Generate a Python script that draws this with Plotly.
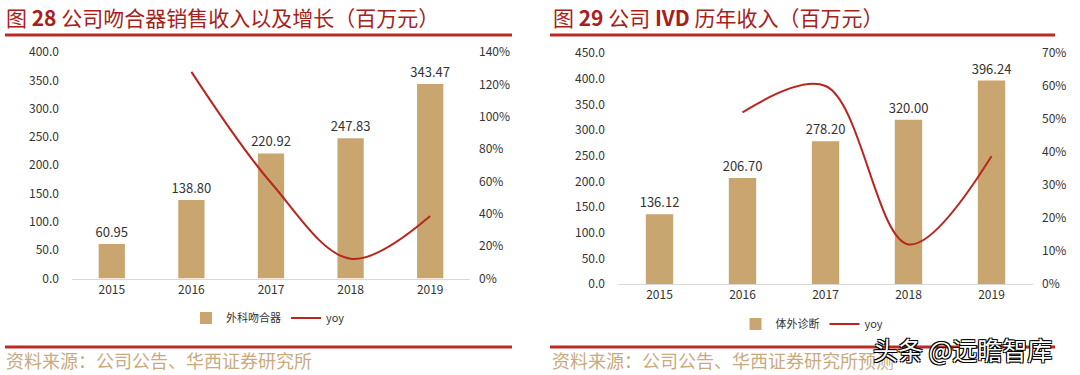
import plotly.graph_objects as go

W, H = 1080, 375

# ---- data ----
years = ["2015", "2016", "2017", "2018", "2019"]
stapler_rev = [60.95, 138.80, 220.92, 247.83, 343.47]
stapler_yoy = [None, 1.277, 0.592, 0.122, 0.386]
ivd_rev = [136.12, 206.70, 278.20, 320.00, 396.24]
ivd_yoy = [None, 0.52, 0.60, 0.12, 0.387]

left_title = "图 <b>28</b> 公司吻合器销售收入以及增长（百万元）"
right_title = "图 <b>29</b> 公司 <b>IVD</b> 历年收入（百万元）"
left_source = "资料来源：公司公告、华西证券研究所"
right_source = "资料来源：公司公告、华西证券研究所预测"
left_bar_name = "外科吻合器"
right_bar_name = "体外诊断"
line_name = "yoy"
watermark = "头条 @远瞻智库"

BAR = "#C9A66F"
LINE = "#B8261E"
TITLE = "#A8201A"
RULE = "#BE2A22"
SRC = "#C9AA80"
TXT = "#333333"
FONT = "Noto Sans CJK SC"


def px(x):
    return x / W


def py(y):
    return (H - y) / H


fig = go.Figure()

# left chart
fig.add_trace(go.Bar(x=years, y=stapler_rev, name=left_bar_name, marker_color=BAR,
                     text=stapler_rev, texttemplate="%{y:.2f}", textposition="outside",
                     constraintext="none",
                     textfont=dict(size=13, color=TXT, family=FONT), cliponaxis=False,
                     xaxis="x", yaxis="y", legend="legend"))
fig.add_trace(go.Scatter(x=years, y=stapler_yoy, name=line_name, mode="lines",
                         line=dict(color=LINE, width=2, shape="spline", smoothing=1),
                         xaxis="x", yaxis="y2", legend="legend"))
# right chart
fig.add_trace(go.Bar(x=years, y=ivd_rev, name=right_bar_name, marker_color=BAR,
                     text=ivd_rev, texttemplate="%{y:.2f}", textposition="outside",
                     constraintext="none",
                     textfont=dict(size=13, color=TXT, family=FONT), cliponaxis=False,
                     xaxis="x2", yaxis="y3", legend="legend2"))
fig.add_trace(go.Scatter(x=years, y=ivd_yoy, name=line_name, mode="lines",
                         line=dict(color=LINE, width=2, shape="spline", smoothing=1),
                         xaxis="x2", yaxis="y4", legend="legend2"))

tickf = dict(size=12, color=TXT, family=FONT)
xcommon = dict(type="category", showgrid=False, showline=True, linecolor="#D9D9D9",
               linewidth=1, ticks="", tickfont=tickf, fixedrange=True, automargin=False)
ycommon = dict(showgrid=False, zeroline=False, showline=False, ticks="", tickfont=tickf,
               automargin=False)

ldom_y = [py(278.5), py(52)]
rdom_y = [py(284), py(53)]

fig.update_layout(
    template="none",
    width=W, height=H, autosize=False,
    margin=dict(l=0, r=0, t=0, b=0, pad=0, autoexpand=False),
    paper_bgcolor="white", plot_bgcolor="white",
    font=dict(family=FONT, color=TXT),
    bargap=0.67,
    xaxis=dict(domain=[px(72), px(470)], anchor="y", **xcommon),
    yaxis=dict(domain=ldom_y, range=[0, 400], dtick=50, tickformat=".1f",
               ticklabelstandoff=12, anchor="x", **ycommon),
    yaxis2=dict(domain=ldom_y, range=[0, 1.4], dtick=0.2, tickformat=".0%",
                overlaying="y", side="right", anchor="x", ticklabelstandoff=8, **ycommon),
    xaxis2=dict(domain=[px(618), px(1033)], anchor="y3", **xcommon),
    yaxis3=dict(domain=rdom_y, range=[0, 450], dtick=50, tickformat=".1f",
                ticklabelstandoff=12, anchor="x2", **ycommon),
    yaxis4=dict(domain=rdom_y, range=[0, 0.7], dtick=0.1, tickformat=".0%",
                overlaying="y3", side="right", anchor="x2", ticklabelstandoff=8, **ycommon),
    legend=dict(orientation="h", x=px(268), xanchor="center", y=py(318), yanchor="middle",
                font=dict(size=11, color=TXT, family=FONT), bgcolor="rgba(0,0,0,0)"),
    legend2=dict(orientation="h", x=px(812), xanchor="center", y=py(324), yanchor="middle",
                 font=dict(size=11, color=TXT, family=FONT), bgcolor="rgba(0,0,0,0)"),
    showlegend=True,
)

shapes = []
for x0, x1 in [(5, 512), (550, 1055)]:
    shapes.append(dict(type="line", xref="paper", yref="paper", x0=px(x0), x1=px(x1),
                       y0=py(35), y1=py(35), line=dict(color=RULE, width=3)))
    shapes.append(dict(type="line", xref="paper", yref="paper", x0=px(x0), x1=px(x1),
                       y0=py(347), y1=py(347), line=dict(color=RULE, width=3)))
fig.update_layout(shapes=shapes)

ann = [
    dict(text=left_title, x=px(4), y=py(17), xanchor="left", yanchor="middle",
         font=dict(size=21, color=TITLE, family=FONT)),
    dict(text=right_title, x=px(551), y=py(17), xanchor="left", yanchor="middle",
         font=dict(size=21, color=TITLE, family=FONT)),
    dict(text=left_source, x=px(4), y=py(360), xanchor="left", yanchor="middle",
         font=dict(size=18, color=SRC, family=FONT)),
    dict(text=right_source, x=px(550), y=py(360), xanchor="left", yanchor="middle",
         font=dict(size=18, color=SRC, family=FONT)),
    dict(text=watermark, x=px(871), y=py(349), xanchor="left", yanchor="middle",
         font=dict(size=25, color="white", family=FONT,
                   shadow="-1px -1px 0 #000, 1px -1px 0 #000, -1px 1px 0 #000, 1px 1px 0 #000")),
]
for a in ann:
    a.update(xref="paper", yref="paper", showarrow=False)
fig.update_layout(annotations=ann)

fig.write_html("out.html", config={"displayModeBar": False},
               post_script="document.body.style.margin='0';document.body.style.overflow='hidden';")
